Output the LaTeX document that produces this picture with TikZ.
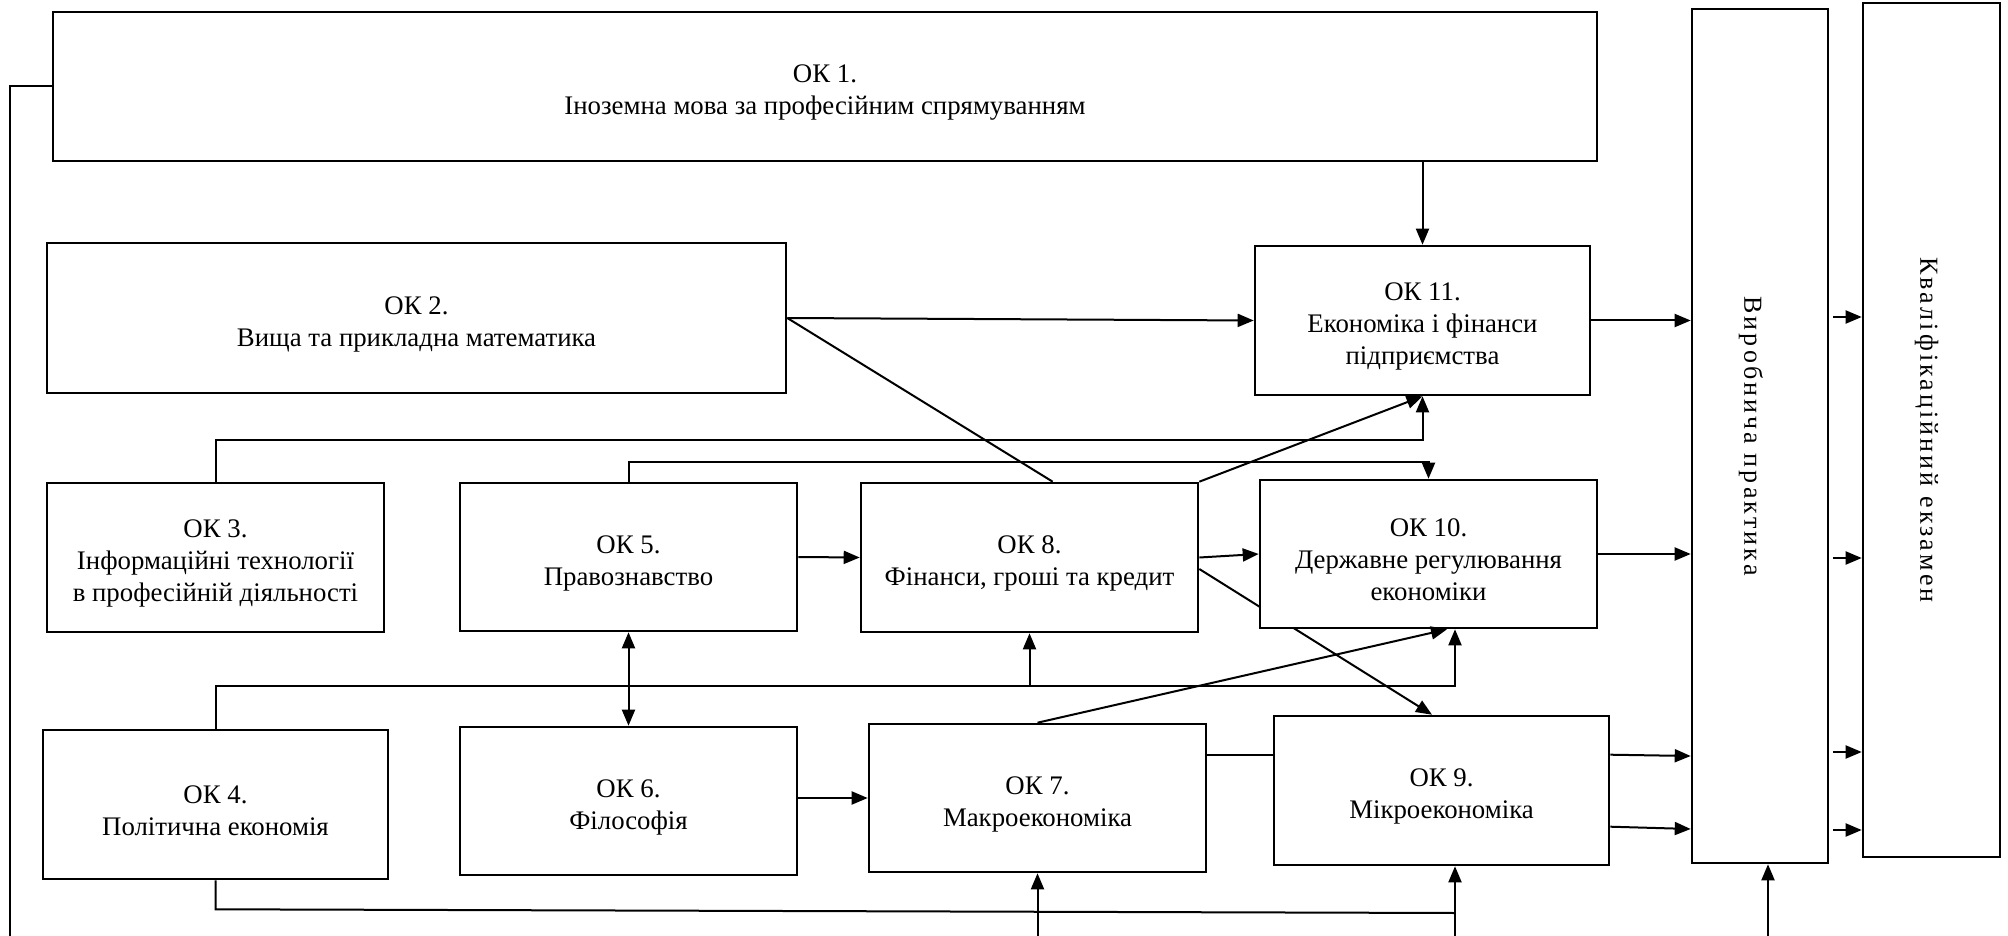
\documentclass[tikz,border=0pt]{standalone}
\usepackage{fontspec}
\usepackage{graphicx}
\setmainfont{Liberation Serif}
\newfontfamily\spacedfont{Liberation Serif}[LetterSpace=12]
\usetikzlibrary{arrows.meta,calc,backgrounds}

% course number, first line of a box
\newcommand{\ok}[1]{\rule{0pt}{15pt}ОК #1.}

\tikzset{
  box/.style={draw, line width=1.3pt, fill=white, align=center, inner sep=0pt},
  okbox/.style={box, font=\fontsize{13.4}{16}\selectfont},
  sidebox/.style={box, minimum height=427pt, font=\spacedfont\fontsize{13}{16}\selectfont},
  arr/.style={-{Triangle[length=8pt,width=6.5pt]}},
  arrboth/.style={{Triangle[length=8pt,width=6.5pt]}-{Triangle[length=8pt,width=6.5pt]}},
}

\begin{document}
\begin{tikzpicture}[x=0.5pt,y=-0.5pt,line width=1pt]
  \useasboundingbox (0,0) rectangle (2008,936);
  % boxes
  \node[okbox,minimum width=772pt,minimum height=74.5pt] (ok1) at (825,86.5)
    {\ok{1}\\Іноземна мова за професійним спрямуванням};
  \node[okbox,minimum width=369.5pt,minimum height=75pt] (ok2) at (416.5,318)
    {\ok{2}\\Вища та прикладна математика};
  \node[okbox,minimum width=168.5pt,minimum height=74.5pt] (ok3) at (215.5,557.5)
    {\ok{3}\\Інформаційні технології\\в професійній діяльності};
  \node[okbox,minimum width=172.5pt,minimum height=74.5pt] (ok4) at (215.5,804.5)
    {\ok{4}\\Політична економія};
  \node[okbox,minimum width=168.5pt,minimum height=74pt] (ok5) at (628.5,557)
    {\ok{5}\\Правознавство};
  \node[okbox,minimum width=168.5pt,minimum height=74pt] (ok6) at (628.5,801)
    {\ok{6}\\Філософія};
  \node[okbox,minimum width=168.5pt,minimum height=74pt] (ok7) at (1037.5,798)
    {\ok{7}\\Макроекономіка};
  \node[okbox,minimum width=168.5pt,minimum height=74.5pt] (ok8) at (1029.5,557.5)
    {\ok{8}\\Фінанси, гроші та кредит};
  \node[okbox,minimum width=167.5pt,minimum height=74.5pt] (ok9) at (1441.5,790.5)
    {\ok{9}\\Мікроекономіка};
  \node[okbox,minimum width=168.5pt,minimum height=74pt] (ok10) at (1428.5,554)
    {\ok{10}\\Державне регулювання\\економіки};
  \node[okbox,minimum width=167.5pt,minimum height=74.5pt] (ok11) at (1422.5,320.5)
    {\ok{11}\\Економіка і фінанси\\підприємства};
  \node[sidebox,minimum width=68pt] (vyr) at (1760,436)
    {\rotatebox{-90}{Виробнича практика}\kern9pt};
  \node[sidebox,minimum width=68.5pt] (kval) at (1931.5,430)
    {\rotatebox{-90}{Кваліфікаційний екзамен}\kern5pt};

  % links
  \draw[arr] (ok11.north |- ok1.south) -- (ok11.north);
  \draw[arr] (ok1.west) -| (10,936.5) -| ($(vyr.south)+(8,0)$);
  \draw[arr] (ok7.south |- 0,936.5) -- (ok7.south);
  \coordinate (c9) at ($(ok9.south)+(13.5,0)$);
  \draw[arr] (c9 |- 0,936.5) -- (c9);
  \draw (ok4.south) -- ++(0,29) -- (c9 |- 0,913);
  \draw[arr] (ok2.east) -- (ok11.west);
  \draw (ok2.east) -- (ok8.73);
  \draw[arr] (ok3.north) -- ++(0,-42) -| (ok11.south);
  \draw[arr] (ok5.north) -- ++(0,-20) -| (ok10.north);
  \draw[arr] (ok5.east) -- (ok8.west);
  \draw[arrboth] (ok5.south) -- (ok6.north);
  \draw[arr] (ok4.north) -- ++(0,-43) coordinate (j4) -| ($(ok10.south)+(26.5,0)$);
  \draw[arr] (ok8.south |- j4) -- (ok8.south);
  \draw[arr] (ok6.east |- ok7.west) -- (ok7.west);
  \draw ($(ok7.north east)+(0,32)$) -- ($(ok9.north west)+(0,40)$);
  \draw[arr] (ok7.north) -- ($(ok10.south)+(18.5,0)$);
  \draw[arr] (ok8.north east) -- (ok11.south);
  \draw[arr] (ok8.east) -- (ok10.west);
  \begin{scope}[on background layer]
    \draw[arr,line width=1pt] ($(ok8.east)+(0,11.5)$) -- ($(ok9.north)+(-9.5,0)$);
  \end{scope}
  \draw[arr] (ok11.east) -- (vyr.west |- ok11.east);
  \draw[arr] (ok10.east) -- (vyr.west |- ok10.east);
  \draw[arr] ($(ok9.north east)+(0,40)$) -- (vyr.west |- 0,756);
  \draw[arr] ($(ok9.north east)+(0,112)$) -- (vyr.west |- 0,829);
  \foreach \y in {317,558,752,830}
    \draw[arr] ($(vyr.east |- 0,\y)+(4,0)$) -- (kval.west |- 0,\y);
\end{tikzpicture}
\end{document}
